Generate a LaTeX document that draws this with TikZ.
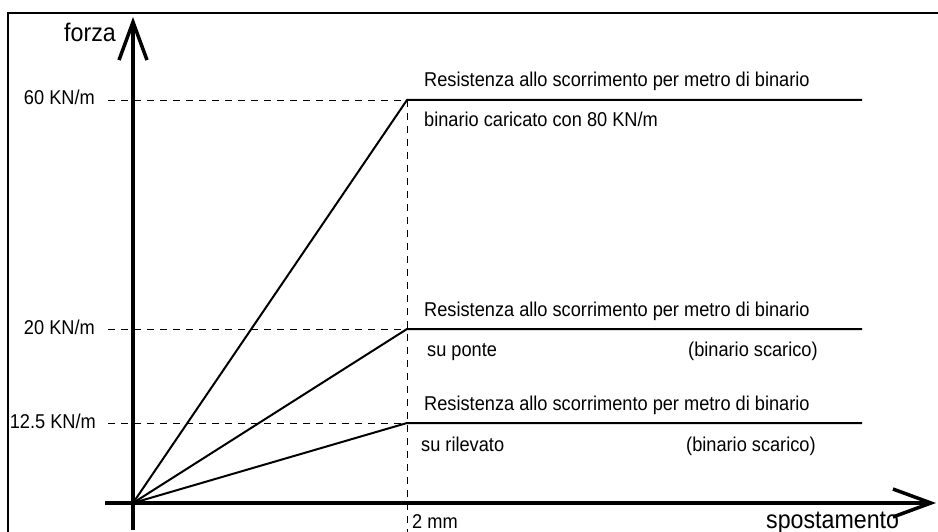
\documentclass[tikz,border=0pt]{standalone}
\usepackage{fontspec}
\setmainfont{Liberation Sans}[FakeStretch=0.91]
\usetikzlibrary{positioning,arrows.meta}

\tikzset{
  lbl/.style={inner sep=0pt, font=\fontsize{20}{22}\selectfont},
  axlbl/.style={inner sep=0pt, font=\fontsize{25.5}{28}\selectfont},
  axis/.style={line width=3.5pt, -{Straight Barb[length=38pt, width=28pt, line width=3.5pt]}},
  guide/.style={line width=0.9pt, dash pattern=on 7pt off 6pt},
  branch/.style={line width=2pt},
}

\begin{document}
\begin{tikzpicture}[x=1pt, y=-1pt]
    \useasboundingbox (0,0) rectangle (938,532);
    % frame
    \draw[line width=2.5pt] (8,532) -- (8,13) -- (938,13);

    \coordinate (O) at (133,503);
    \coordinate (p60) at (407,100);
    \coordinate (p20) at (407,329);
    \coordinate (p12) at (407,423);
    \coordinate (e60) at (862,100);
    \coordinate (e20) at (862,329);
    \coordinate (e12) at (862,423);
    \coordinate (g60) at (108,100);
    \coordinate (g20) at (108,329);
    \coordinate (g12) at (108,423);
    \coordinate (gbot) at (407,532);

    % axes
    \draw[axis] (133,530) -- (133,17) coordinate (ytip);
    \draw[axis] (105,503) -- (936,503) coordinate (xtip);

    % guides
    \draw[guide] (g60) -- (p60);
    \draw[guide] (g20) -- (p20);
    \draw[guide] (g12) -- (p12);
    \draw[guide] (p60) -- (gbot);

    % resistance curves
    \draw[branch] (O) -- (p60) -- (e60);
    \draw[branch] (O) -- (p20) -- (e20);
    \draw[branch] (O) -- (p12) -- (e12);

    \node (forza) [axlbl, anchor=base east] at (116,42) {forza};
    \node (spost) [axlbl, anchor=base west] at (766,528) {spostamento};
    \node (v60) [lbl, anchor=base east] at (95,105) {60 KN/m};
    \node (v20) [lbl, anchor=base east] at (95,334) {20 KN/m};
    \node (v12) [lbl, anchor=base east] at (96,428) {12.5 KN/m};
    \node (mm) [lbl, anchor=base west] at (412,528) {2 mm};

    \node (r60) [lbl, anchor=base west] at (424,87) {Resistenza allo scorrimento per metro di binario};
    \node (c60) [lbl, anchor=base west] at (424,127) {binario caricato con 80 KN/m};
    \node (r20) [lbl, anchor=base west] at (424,316) {Resistenza allo scorrimento per metro di binario};
    \node (c20) [lbl, anchor=base west] at (427,356) {su ponte};
    \node (s20) [lbl, anchor=base west] at (688,356) {(binario scarico)};
    \node (r12) [lbl, anchor=base west] at (424,410) {Resistenza allo scorrimento per metro di binario};
    \node (c12) [lbl, anchor=base west] at (421,451) {su rilevato};
    \node (s12) [lbl, anchor=base west] at (686,451) {(binario scarico)};
\end{tikzpicture}
\end{document}
